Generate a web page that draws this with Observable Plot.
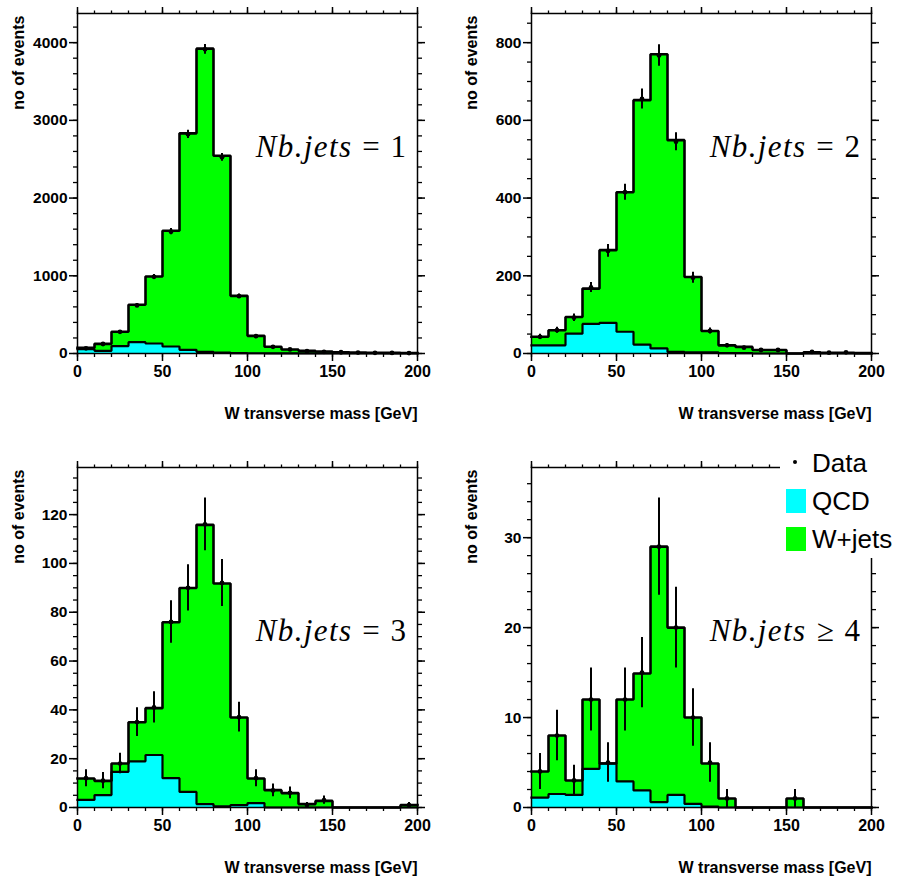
<!DOCTYPE html>
<html>
<head>
<meta charset="utf-8">
<script src="https://cdn.jsdelivr.net/npm/d3@7"></script>
<script src="https://cdn.jsdelivr.net/npm/@observablehq/plot@0.6"></script>
<style>
  body { margin: 0; background: #fff; }
  #chart { position: relative; width: 904px; height: 879px; overflow: hidden; background: #fff; }
  #chart > svg { position: absolute; }
</style>
</head>
<body>
<div id="chart"></div>
<script>
// ---------------- data ----------------
const binLow = [0,10,20,30,40,50,60,70,80,90,100,110,120,130,140,150,160,170,180,190];
const binWidth = 10;
const xTicks = [0, 50, 100, 150, 200];
const xLabel = "W transverse mass [GeV]";
const yLabel = "no of events";
const titleNames = ["Nb.jets", "Nb.jets", "Nb.jets", "Nb.jets"];
const titleRelations = ["= 1", "= 2", "= 3", "\u2265 4"];
const legendLabels = ["Data", "QCD", "W+jets"];

// Nb.jets = 1
const qcd1   = [55, 34, 96, 146, 129, 90, 47, 21, 11, 5, 3, 2, 1, 1, 1, 0, 0, 0, 0, 0];
const wjets1 = [17, 90, 183, 481, 862, 1489, 2786, 3902, 2534, 737, 224, 84, 51, 33, 25, 17, 13, 9, 8, 6];
const data1  = [66, 122, 279, 618, 987, 1567, 2820, 3914, 2524, 738, 223, 86, 52, 30, 22, 16, 12, 9, 7, 5];
const err1   = [8, 11, 17, 25, 31, 40, 53, 63, 50, 27, 15, 9, 7, 5, 5, 4, 3, 3, 3, 2];
const yTicks1 = [0, 1000, 2000, 3000, 4000];

// Nb.jets = 2
const qcd2   = [21, 21, 51, 76, 79, 56, 23, 13, 4, 3, 3, 1, 1, 0, 0, 0, 0, 0, 0, 0];
const wjets2 = [22, 39, 43, 91, 187, 359, 629, 757, 545, 194, 55, 20, 16, 9, 9, 0, 3, 2, 2, 1];
const data2  = [43, 60, 92, 170, 264, 415, 655, 767, 545, 195, 58, 21, 15, 9, 9, 0, 4, 2, 3, 0];
const err2   = [6.6, 7.7, 9.6, 13, 16.2, 20.4, 25.6, 27.7, 23.3, 14, 7.6, 4.6, 3.9, 3, 3, 0, 2, 1.4, 1.7, 0];
const yTicks2 = [0, 200, 400, 600, 800];

// Nb.jets = 3
const qcd3   = [3.1, 5.1, 14.6, 18.9, 21.5, 12.0, 6.4, 1.4, 0.5, 1.0, 1.8, 0, 0, 0, 0, 0, 0, 0, 0, 0];
const wjets3 = [8.8, 5.8, 3.4, 16.0, 19.2, 63.9, 83.5, 114.4, 91.3, 35.9, 10.1, 7.1, 5.9, 1.4, 2.7, 0, 0, 0, 0, 1.0];
const data3  = [12, 11, 18, 35, 41, 76, 90, 116, 92, 37, 12, 7, 6, 1, 3, 0, 0, 0, 0, 1];
const err3   = [3.5, 3.3, 4.2, 5.9, 6.4, 8.7, 9.5, 10.8, 9.6, 6.1, 3.5, 2.6, 2.4, 1, 1.7, 0, 0, 0, 0, 1];
const yTicks3 = [0, 20, 40, 60, 80, 100, 120];

// Nb.jets >= 4
const qcd4   = [1.1, 1.5, 1.4, 4.3, 4.9, 2.9, 1.9, 0.6, 1.4, 0.4, 0.1, 0, 0, 0, 0, 0, 0, 0, 0, 0];
const wjets4 = [2.9, 6.5, 1.6, 7.7, 0, 9.1, 13.0, 28.4, 18.6, 9.6, 4.8, 1.0, 0, 0, 0, 1.0, 0, 0, 0, 0];
const data4  = [4, 8, 3, 12, 5, 12, 15, 29, 20, 10, 5, 1, 0, 0, 0, 1, 0, 0, 0, 0];
const err4   = [2, 2.8, 1.7, 3.5, 2.2, 3.5, 3.9, 5.4, 4.5, 3.2, 2.2, 1, 0, 0, 0, 1, 0, 0, 0, 0];
const yTicks4 = [0, 10, 20, 30];

const yMaxes = [4375, 875, 139.3, 37.8];
const yMinorSteps = [200, 50, 5, 2];
const xMinorStep = 10;

const panels = [
  {qcd: qcd1, wjets: wjets1, data: data1, err: err1, yTicks: yTicks1},
  {qcd: qcd2, wjets: wjets2, data: data2, err: err2, yTicks: yTicks2},
  {qcd: qcd3, wjets: wjets3, data: data3, err: err3, yTicks: yTicks3},
  {qcd: qcd4, wjets: wjets4, data: data4, err: err4, yTicks: yTicks4}
];

// ---------------- layout (positions / sizes) ----------------
const layouts = [
  {left: 0,   top: 0,   width: 452, height: 440, mL: 77, mR: 35, mT: 13, mB: 87, yTitleDx: -59, titleDy: 134},
  {left: 452, top: 0,   width: 452, height: 440, mL: 79, mR: 33, mT: 13, mB: 87, yTitleDx: -60, titleDy: 134},
  {left: 0,   top: 440, width: 452, height: 439, mL: 77, mR: 35, mT: 27, mB: 72, yTitleDx: -59, titleDy: 164},
  {left: 452, top: 440, width: 452, height: 439, mL: 79, mR: 33, mT: 27, mB: 72, yTitleDx: -60, titleDy: 164}
];

const GREEN = "#00ff00", CYAN = "#00ffff";
const chart = document.getElementById("chart");
const plainFormat = d => String(d);

panels.forEach((P, i) => {
  const L = layouts[i];
  const bins = binLow.map((lo, k) => ({
    lo, hi: lo + binWidth, mid: lo + binWidth / 2,
    qcd: P.qcd[k], total: P.qcd[k] + P.wjets[k],
    data: P.data[k], err: P.err[k]
  }));
  const step = key => bins.flatMap(b => [{x: b.lo, y: b[key]}, {x: b.hi, y: b[key]}]);
  const pts = bins.filter(b => b.data > 0);
  const yMax = yMaxes[i];
  const xMinor = d3.range(0, 200 + 1e-9, xMinorStep);
  const yMinor = d3.range(0, yMax, yMinorSteps[i]);
  const lineOpts = {x: "x", y: "y", stroke: "black", strokeLinejoin: "miter", strokeLinecap: "square"};

  const svg = Plot.plot({
    width: L.width, height: L.height,
    marginLeft: L.mL, marginRight: L.mR, marginTop: L.mT, marginBottom: L.mB,
    x: {domain: [0, 200]},
    y: {domain: [0, yMax]},
    style: {fontFamily: "'Liberation Sans', Arial, sans-serif", fontSize: "15.5px", fontWeight: "bold", color: "black", background: "transparent", overflow: "visible"},
    marks: [
      Plot.rectY(bins, {x1: "lo", x2: "hi", y1: 0, y2: "total", fill: GREEN}),
      Plot.rectY(bins, {x1: "lo", x2: "hi", y1: 0, y2: "qcd", fill: CYAN}),
      Plot.line(step("qcd"), {...lineOpts, strokeWidth: 2.2}),
      Plot.line(step("total"), {...lineOpts, strokeWidth: 2.6}),
      Plot.ruleX(pts, {x: "mid", y1: d => d.data - d.err, y2: d => d.data + d.err, stroke: "black", strokeWidth: 2}),
      Plot.dot(pts, {x: "mid", y: "data", r: 2.4, fill: "black"}),
      Plot.frame({stroke: "black", strokeWidth: 1.5}),
      // bottom axis
      Plot.axisX({anchor: "bottom", ticks: xTicks, tickSize: 8, tickPadding: 4, tickFormat: plainFormat, label: null, strokeWidth: 1.5, fontSize: 16}),
      Plot.axisX({anchor: "bottom", ticks: xMinor, tickSize: 4, tickFormat: () => "", label: null, strokeWidth: 1.3}),
      // top axis
      Plot.axisX({anchor: "top", ticks: xTicks, tickSize: 7, tickFormat: () => "", label: null, strokeWidth: 1.5}),
      Plot.axisX({anchor: "top", ticks: xMinor, tickSize: 3.5, tickFormat: () => "", label: null, strokeWidth: 1.3}),
      // left axis
      Plot.axisY({anchor: "left", ticks: P.yTicks, tickSize: 8, tickPadding: 2, tickFormat: plainFormat, label: null, strokeWidth: 1.5}),
      Plot.axisY({anchor: "left", ticks: yMinor, tickSize: 4, tickFormat: () => "", label: null, strokeWidth: 1.3}),
      // right axis
      Plot.axisY({anchor: "right", ticks: P.yTicks, tickSize: 7, tickFormat: () => "", label: null, strokeWidth: 1.5}),
      Plot.axisY({anchor: "right", ticks: yMinor, tickSize: 4, tickFormat: () => "", label: null, strokeWidth: 1.3}),
      // axis titles
      Plot.text([xLabel], {text: d => d, frameAnchor: "bottom-right", textAnchor: "end", lineAnchor: "middle", dy: 60, fontSize: 16, fontWeight: "bold"}),
      Plot.text([yLabel], {text: d => d, frameAnchor: "top-left", textAnchor: "end", lineAnchor: "middle", rotate: -90, dx: L.yTitleDx, dy: 2, fontSize: 16, fontWeight: "bold"}),
      // panel title
      Plot.text([titleNames[i]], {text: d => d, frameAnchor: "top-right", textAnchor: "end", lineAnchor: "middle", dx: -65, dy: L.titleDy, fontFamily: "'Liberation Serif', 'Times New Roman', serif", fontStyle: "italic", fontWeight: "normal", fontSize: 31}),
      Plot.text([titleRelations[i]], {text: d => d, frameAnchor: "top-right", textAnchor: "end", lineAnchor: "middle", dx: -11.5, dy: L.titleDy, fontFamily: "'Liberation Serif', 'Times New Roman', serif", fontStyle: "normal", fontWeight: "normal", fontSize: 31})
    ]
  });
  svg.style.left = L.left + "px";
  svg.style.top = L.top + "px";
  d3.select(svg).selectAll("text").filter(function () { return this.textContent === "Nb.jets"; })
    .attr("letter-spacing", "1.4px");
  d3.select(svg).selectAll("text").filter(function () { return this.textContent === titleRelations[i]; })
    .attr("word-spacing", "3px");
  chart.appendChild(svg);
});

// ---------------- legend (overlay in the lower-right panel) ----------------
const leg = d3.select(chart).append("svg")
  .attr("width", 124).attr("height", 118)
  .style("left", "780px").style("top", "440px")
  .style("position", "absolute");
leg.append("rect").attr("width", 124).attr("height", 118).attr("fill", "white");
leg.append("circle").attr("cx", 15).attr("cy", 22).attr("r", 2).attr("fill", "black");
leg.append("rect").attr("x", 6).attr("y", 49).attr("width", 20).attr("height", 24).attr("fill", CYAN);
leg.append("rect").attr("x", 6).attr("y", 87).attr("width", 20).attr("height", 24).attr("fill", GREEN);
const legY = [31.5, 69.5, 107.5];
legendLabels.forEach((t, k) => {
  leg.append("text").attr("x", 32).attr("y", legY[k])
    .attr("font-family", "'Liberation Sans', Arial, sans-serif")
    .attr("font-size", 26).attr("fill", "black").text(t);
});
</script>
</body>
</html>
